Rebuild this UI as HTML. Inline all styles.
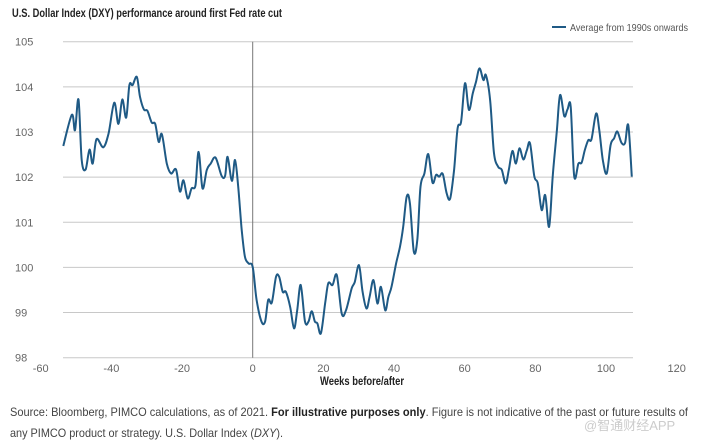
<!DOCTYPE html>
<html><head><meta charset="utf-8"><style>
html,body{margin:0;padding:0;background:#fff;width:702px;height:443px;overflow:hidden}
svg{display:block;font-family:"Liberation Sans","Noto Sans CJK SC",sans-serif}
</style></head><body>
<svg id="chart" width="702" height="443" viewBox="0 0 702 443" xmlns="http://www.w3.org/2000/svg">
<text x="12" y="17" font-size="12" font-weight="bold" fill="#222" textLength="270" lengthAdjust="spacingAndGlyphs">U.S. Dollar Index (DXY) performance around first Fed rate cut</text>
<g id="grid"></g>
<g id="yticks"></g>
<g id="xticks"></g>
<g id="series"></g>
<g>
<line x1="552" y1="27" x2="566" y2="27" stroke="#1f5a85" stroke-width="2"/>
<text x="570" y="31" font-size="10.5" fill="#555" textLength="118" lengthAdjust="spacingAndGlyphs">Average from 1990s onwards</text>
</g>
<text x="362" y="385" font-size="11.5" font-weight="bold" fill="#222" text-anchor="middle" textLength="84" lengthAdjust="spacingAndGlyphs">Weeks before/after</text>
<text x="10" y="416" font-size="12" fill="#444" textLength="678" lengthAdjust="spacingAndGlyphs">Source: Bloomberg, PIMCO calculations, as of 2021. <tspan font-weight="bold" fill="#222">For illustrative purposes only</tspan>. Figure is not indicative of the past or future results of</text>
<text x="10" y="437" font-size="12" fill="#444" textLength="273" lengthAdjust="spacingAndGlyphs">any PIMCO product or strategy. U.S. Dollar Index (<tspan font-style="italic">DXY</tspan>).</text>
<text x="584" y="430" font-size="13" fill="#ccc">@智通财经APP</text>
</svg>
<script>
const weeks=[-53.6,-51.2,-50.3,-49.3,-48.4,-47.3,-46.2,-45.3,-44.2,-42.3,-40.8,-39.2,-38,-36.9,-35.8,-34.9,-34,-32.8,-31.9,-30.8,-29.8,-28.6,-27.6,-26.6,-25.7,-24.3,-23.1,-21.7,-20.6,-19.6,-18.4,-17.3,-16.2,-15.3,-14.2,-13,-11.9,-10.5,-8.8,-7.8,-7.1,-5.9,-5,-4.1,-3.1,-2.2,-1.2,0,1.1,2.5,3.5,4.4,5.4,6.6,7.5,8.5,9.4,10.6,11.7,12.6,13.6,14.8,15.8,16.7,17.6,18.3,19.3,20.5,21.4,22.6,23.8,25.2,26.4,28,28.9,30.1,31.1,32.2,33.1,34.2,35.3,36.3,37.5,38.4,39.3,40.6,41.7,42.6,43.6,44.5,45.6,46.6,47.5,48.6,49.7,50.9,51.9,52.8,53.8,54.9,55.9,57,58,59,60.1,61.2,62.3,63.2,64.2,65.3,66,67.2,68.3,69.5,70.5,71.6,72.5,73.5,74.5,75.5,76.6,77.6,78.5,79.7,80.7,81.8,82.8,83.9,84.9,86.1,87,88.2,89.1,90,91,92.2,93.1,94,95,95.9,97.2,98.1,99.1,100.2,101.3,102.3,103.2,104.4,105.4,106.3,107.3];
const dxy=[102.69,103.38,103.04,103.72,102.38,102.17,102.61,102.3,102.84,102.66,102.97,103.65,103.18,103.72,103.32,104.04,104.04,104.22,103.78,103.5,103.47,103.21,103.18,102.78,102.95,102.3,102.08,102.17,101.68,101.93,101.53,101.75,101.82,102.56,101.75,102.16,102.3,102.43,102.03,102.03,102.45,101.92,102.38,101.79,100.83,100.24,100.09,100.01,99.28,98.8,98.8,99.28,99.22,99.79,99.79,99.46,99.46,99.13,98.65,99.05,99.61,98.8,98.8,99.03,98.8,98.76,98.54,99.2,99.65,99.61,99.83,98.98,99.05,99.53,99.68,100.05,99.46,99.09,99.35,99.72,99.2,99.57,99.05,99.35,99.57,100.09,100.46,100.9,101.57,101.42,100.35,100.61,101.79,102.08,102.51,101.88,102.05,102.01,102.07,101.64,101.53,102.16,103.08,103.23,104.08,103.49,103.86,104.11,104.41,104.15,104.26,103.71,102.53,102.23,102.16,101.86,102.16,102.58,102.3,102.64,102.39,102.6,102.75,102.02,101.86,101.27,101.6,100.9,102.01,103.04,103.82,103.35,103.5,103.56,102.02,102.3,102.32,102.6,102.82,102.84,103.41,103.04,102.38,102.08,102.71,102.86,103.01,102.76,102.76,103.15,102.01];
const yTicks=[98,99,100,101,102,103,104,105];
const xTicks=[-60,-40,-20,0,20,40,60,80,100,120];
const NS="http://www.w3.org/2000/svg";
const X=v=>252.7+v*3.533;
const Y=v=>357.7-(v-98)*45.14;
function mk(tag,attrs,parent){const e=document.createElementNS(NS,tag);for(const k in attrs)e.setAttribute(k,attrs[k]);parent.appendChild(e);return e;}
const grid=document.getElementById('grid'),yt=document.getElementById('yticks'),xt=document.getElementById('xticks'),ser=document.getElementById('series');
yTicks.forEach(t=>{
  const l=mk('line',{x1:63,x2:633,y1:Y(t),y2:Y(t),stroke:'#c8c8c8','stroke-width':1},grid);
  
  
  const tx=mk('text',{x:15,y:Y(t)+4,'font-size':11,fill:'#666'},yt);
  tx.textContent=t;
  
  
});
const zl=mk('line',{x1:X(0),x2:X(0),y1:Y(105),y2:Y(98),stroke:'#777','stroke-width':1},grid);


xTicks.forEach(t=>{
  const tx=mk('text',{x:X(t),y:372,'font-size':11,fill:'#666','text-anchor':'middle'},xt);
  tx.textContent=t;
  
  
});
const pts=weeks.map((w,i)=>[X(w),Y(dxy[i])]);
let d='M'+pts[0][0].toFixed(1)+','+pts[0][1].toFixed(1);
for(let i=0;i<pts.length-1;i++){
  const p0=pts[Math.max(0,i-1)],p1=pts[i],p2=pts[i+1],p3=pts[Math.min(pts.length-1,i+2)];
  const c1=[p1[0]+(p2[0]-p0[0])/6,p1[1]+(p2[1]-p0[1])/6],c2=[p2[0]-(p3[0]-p1[0])/6,p2[1]-(p3[1]-p1[1])/6];
  d+=' C'+c1.map(v=>v.toFixed(1))+' '+c2.map(v=>v.toFixed(1))+' '+p2.map(v=>v.toFixed(1));
}
const path=mk('path',{d:d,fill:'none',stroke:'#1f5a85','stroke-width':2,'stroke-linejoin':'round'},ser);


</script>
</body></html>
